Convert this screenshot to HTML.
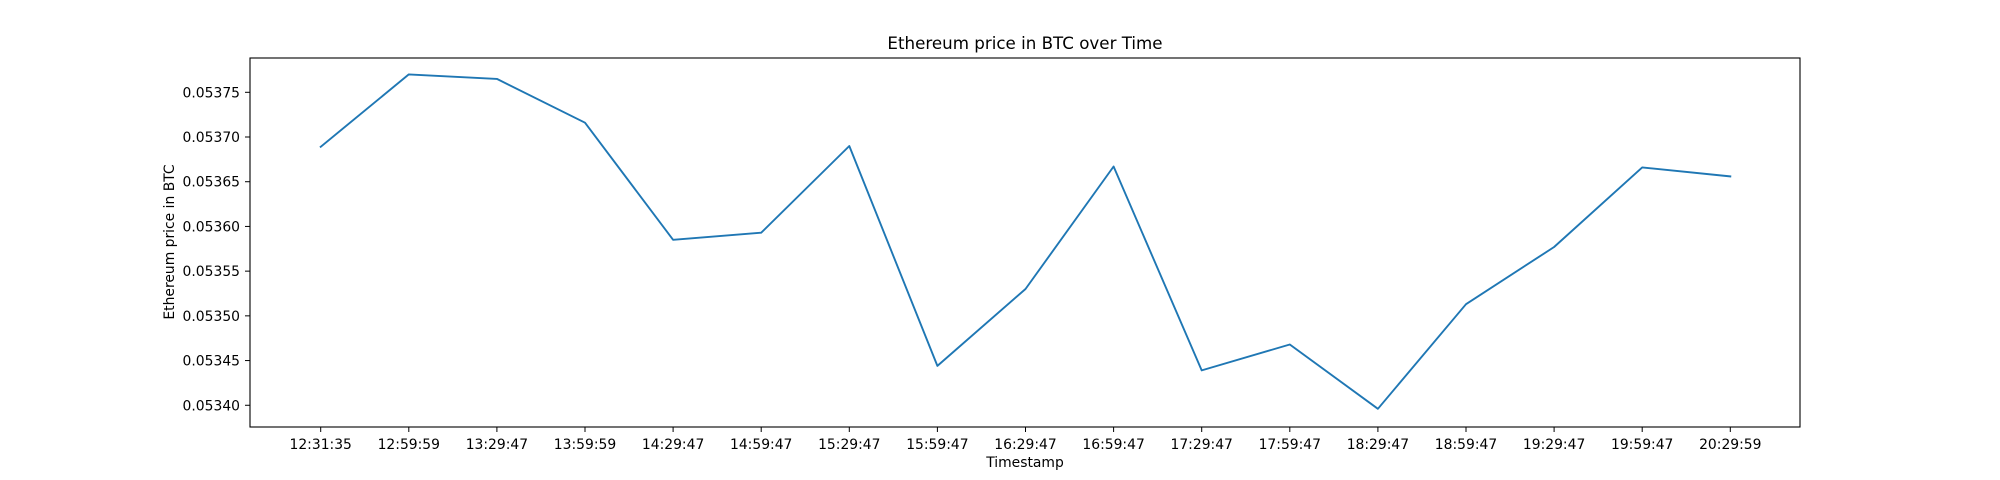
<!DOCTYPE html>
<html><head><meta charset="utf-8"><style>
html,body{margin:0;padding:0;background:#fff;}
svg{display:block;font-family:"DejaVu Sans","Liberation Sans",sans-serif;}
</style></head><body>
<svg id="chart" width="2000" height="480" viewBox="0 0 2000 480" xmlns="http://www.w3.org/2000/svg">
<rect width="2000" height="480" fill="#fff"/>
<text x="1025" y="49" font-size="16.7" text-anchor="middle" fill="#000">Ethereum price in BTC over Time</text>
<g id="plot"></g>
<rect x="250" y="58" width="1550" height="369" fill="none" stroke="#000" stroke-width="1.1"/>
<text x="1025" y="467" font-size="13.9" text-anchor="middle" fill="#000">Timestamp</text>
<text transform="translate(174,242) rotate(-90)" font-size="13.9" text-anchor="middle" fill="#000">Ethereum price in BTC</text>
</svg>
<script>
const categories = ["12:31:35","12:59:59","13:29:47","13:59:59","14:29:47","14:59:47","15:29:47","15:59:47","16:29:47","16:59:47","17:29:47","17:59:47","18:29:47","18:59:47","19:29:47","19:59:47","20:29:59"];
const prices = [0.053689,0.053770,0.053765,0.053716,0.053585,0.053593,0.053690,0.053444,0.053530,0.053667,0.053439,0.053468,0.053396,0.053513,0.053577,0.053666,0.053656];
const yTicks = [0.05340,0.05345,0.05350,0.05355,0.05360,0.05365,0.05370,0.05375];
const yTickLabels = ["0.05340","0.05345","0.05350","0.05355","0.05360","0.05365","0.05370","0.05375"];

const NS="http://www.w3.org/2000/svg";
const g=document.getElementById('plot');
function xPos(i){return 320.7+i*88.1;}
function yPos(v){return 92.3+(0.05375-v)/0.00005*44.71;}
function mk(t,a){const e=document.createElementNS(NS,t);for(const k in a)e.setAttribute(k,a[k]);g.appendChild(e);return e;}

categories.forEach((c,i)=>{
  const x=xPos(i);
  const t=mk('line',{x1:x,x2:x,y1:427,y2:432,stroke:'#000','stroke-width':1});
  
  
  const l=mk('text',{x:x,y:449,'font-size':13.9,'text-anchor':'middle',fill:'#000'});
  l.textContent=c;
  
  
});
yTicks.forEach((v,i)=>{
  const y=yPos(v);
  const t=mk('line',{x1:245,x2:250,y1:y,y2:y,stroke:'#000','stroke-width':1});
  
  
  const l=mk('text',{x:240,y:y+5,'font-size':13.9,'text-anchor':'end',fill:'#000'});
  l.textContent=yTickLabels[i];
  
  
});
const pts=prices.map((v,i)=>xPos(i).toFixed(1)+','+yPos(v).toFixed(1)).join(' ');
const line=mk('polyline',{points:pts,fill:'none',stroke:'#1f77b4','stroke-width':1.9,'stroke-linejoin':'round','stroke-linecap':'square'});


</script>
</body></html>
